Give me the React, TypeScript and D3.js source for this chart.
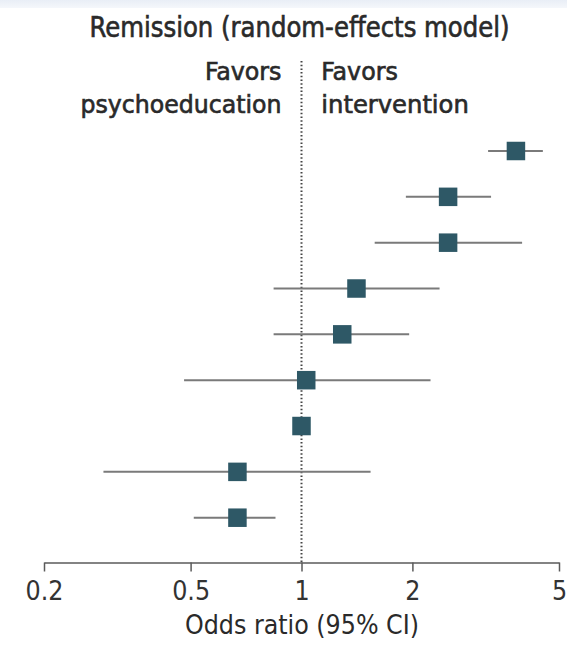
import React, { useEffect, useRef } from "react";
import * as d3 from "d3";

const studies = ["S1", "S2", "S3", "S4", "S5", "S6", "S7", "S8", "S9"];
const oddsRatio = [3.82, 2.5, 2.5, 1.41, 1.29, 1.03, 1.0, 0.67, 0.67];
const ciLow = [3.21, 1.92, 1.58, 0.84, 0.84, 0.48, 0.97, 0.29, 0.51];
const ciHigh = [4.52, 3.27, 3.97, 2.37, 1.96, 2.24, 1.03, 1.54, 0.85];
const tickValues = [0.2, 0.5, 1, 2, 5];
const tickLabels = ["0.2", "0.5", "1", "2", "5"];

const W = 567;
const H = 645;
const FONT = "'Liberation Sans Narrow', 'DejaVu Sans Condensed', 'Roboto Condensed', 'Noto Sans', sans-serif";

export default function App() {
  const axisRef = useRef<SVGGElement>(null);
  const x = d3.scaleLog().domain([0.2, 5]).range([44, 559]);
  const y = d3.scalePoint<string>().domain(studies).range([151, 517.7]);
  const axisY = 562.5;

  useEffect(() => {
    if (!axisRef.current) return;
    const g = d3.select(axisRef.current);
    g.selectAll("*").remove();
    const axis = d3
      .axisBottom(x)
      .tickValues(tickValues)
      .tickFormat((d, i) => tickLabels[i])
      .tickSizeInner(9)
      .tickSizeOuter(0)
      .tickPadding(8);
    g.call(axis as any);
    g.select(".domain").attr("stroke", "#5a5a5a").attr("stroke-width", 1.5);
    g.selectAll(".tick line").attr("stroke", "#5a5a5a").attr("stroke-width", 1.5);
    g.selectAll(".tick text")
      .attr("fill", "#333")
      .attr("font-size", 26.5)
      .attr("font-family", FONT)
      .attr("dy", null)
      .attr("y", 37.5);
  }, []);

  const sq = 18.5;
  const heading = { fontSize: 25, fill: "#2a2a2a", stroke: "#2a2a2a", strokeWidth: 0.6 };
  return (
    <svg
      width={W}
      height={H}
      style={{ position: "absolute", left: 0, top: 0, background: "#fff" }}
      fontFamily={FONT}
    >
      <defs>
        <linearGradient id="topband" x1="0" y1="0" x2="0" y2="1">
          <stop offset="0" stopColor="#e9eef6" />
          <stop offset="1" stopColor="#f5f7fb" />
        </linearGradient>
      </defs>
      <rect x={0} y={0} width={W} height={8} fill="url(#topband)" />
      <text
        x={299.5}
        y={36.7}
        textAnchor="middle"
        fontSize={27.5}
        fill="#2a2a2a"
        stroke="#2a2a2a"
        strokeWidth={0.6}
        textLength={420}
        lengthAdjust="spacingAndGlyphs"
      >
        Remission (random-effects model)
      </text>
      <text x={281.5} y={80} textAnchor="end" {...heading} textLength={76.5} lengthAdjust="spacingAndGlyphs">
        Favors
      </text>
      <text x={281.5} y={113} textAnchor="end" {...heading} textLength={201} lengthAdjust="spacingAndGlyphs">
        psychoeducation
      </text>
      <text x={321.3} y={80} textAnchor="start" {...heading} textLength={76.5} lengthAdjust="spacingAndGlyphs">
        Favors
      </text>
      <text x={321.3} y={113} textAnchor="start" {...heading} textLength={147.5} lengthAdjust="spacingAndGlyphs">
        intervention
      </text>
      <line
        x1={x(1)}
        x2={x(1)}
        y1={61}
        y2={axisY}
        stroke="#444"
        strokeWidth={2}
        strokeDasharray="1.5,2.2"
      />
      {studies.map((s, i) => (
        <g key={s}>
          <line
            x1={x(ciLow[i])}
            x2={x(ciHigh[i])}
            y1={y(s)}
            y2={y(s)}
            stroke="#7a7a7a"
            strokeWidth={2}
          />
          <rect
            x={x(oddsRatio[i]) - sq / 2}
            y={(y(s) as number) - sq / 2}
            width={sq}
            height={sq}
            fill="#2e5866"
          />
        </g>
      ))}
      <g ref={axisRef} transform={`translate(0,${axisY})`} />
      <text
        x={302}
        y={633.5}
        textAnchor="middle"
        fontSize={26}
        fill="#2a2a2a"
        textLength={234}
        lengthAdjust="spacingAndGlyphs"
      >
        Odds ratio (95% CI)
      </text>
    </svg>
  );
}
